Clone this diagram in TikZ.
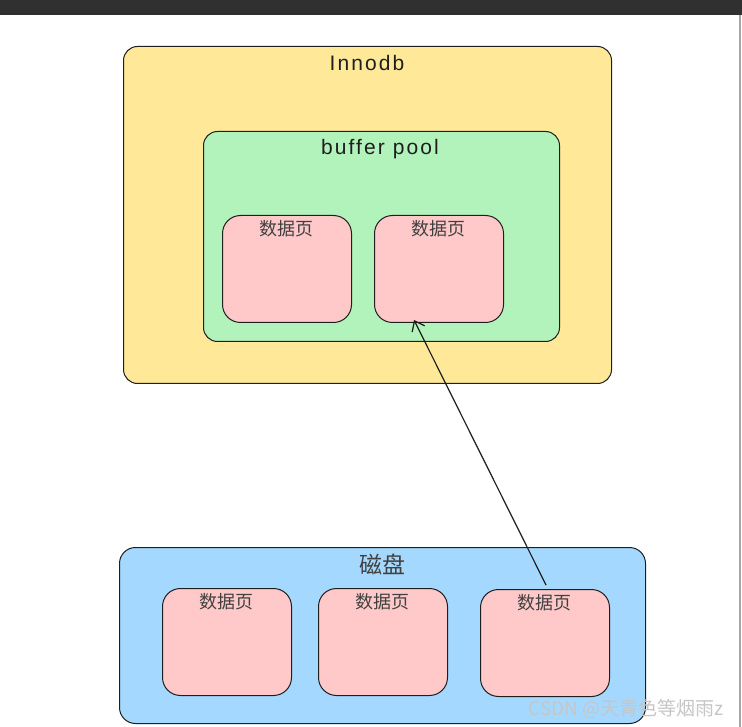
\documentclass[tikz,border=0pt]{standalone}
\usepackage{fontspec}
\setmainfont{Liberation Sans}
\newfontfamily\cjk{Noto Sans CJK SC}
\newfontfamily\hand[LetterSpace=10]{Liberation Sans}
\usetikzlibrary{arrows.meta}
\definecolor{lineC}{HTML}{1E1E1E}
\definecolor{yellowF}{HTML}{FFE999}
\definecolor{greenF}{HTML}{B2F2BB}
\definecolor{pinkF}{HTML}{FFC9C9}
\definecolor{blueF}{HTML}{A5D8FF}
\definecolor{barC}{HTML}{303030}
\tikzset{
  box/.style={draw=lineC, line width=1pt, rounded corners=14pt, anchor=north west, inner sep=0pt},
  pagebox/.style={box, fill=pinkF, minimum width=129pt, minimum height=107pt, rounded corners=18pt},
  title/.style={font=\hand\fontsize{21}{21}\selectfont, text=lineC},
  ptext/.style={font=\cjk\fontsize{18}{18}\selectfont, text=black!75},
}
\begin{document}
\begin{tikzpicture}[x=1pt,y=-1pt]
\useasboundingbox (0,0) rectangle (742,727);
\fill[white] (0,0) rectangle (742,727);
\fill[barC] (0,0) rectangle (742,15);
\fill[gray!70] (739,15) rectangle (741,727);
% Innodb
\node[box, fill=yellowF, minimum width=488pt, minimum height=337pt] (innodb) at (123,46) {};
\node[title] (innodbT) at (367,63) {Innodb};
% buffer pool
\node[box, fill=greenF, minimum width=356pt, minimum height=210pt] (bp) at (203,131) {};
\node[title] (bpT) at (380,149) {buffer pool};
% buffer pages
\node[pagebox] (bp1) at (222,215) {};
\node[ptext] (bp1T) at (286.5,229) {数据页};
\node[pagebox] (bp2) at (374,215) {};
\node[ptext] (bp2T) at (438.5,229) {数据页};
% disk
\node[box, fill=blueF, minimum width=526pt, minimum height=176pt, rounded corners=16pt] (disk) at (119,547) {};
\node[font=\cjk\fontsize{23}{23}\selectfont, text=black!75] (diskT) at (382,564) {磁盘};
\node[pagebox] (d1) at (162,588) {};
\node[ptext] (d1T) at (226.5,602) {数据页};
\node[pagebox] (d2) at (318,588) {};
\node[ptext] (d2T) at (382.5,602) {数据页};
\node[pagebox] (d3) at (480,589) {};
\node[ptext] (d3T) at (544.5,603) {数据页};
% arrow
\coordinate (aStart) at (546,585);
\coordinate (aEnd) at (414,320);
\draw[lineC, line width=1.2pt, -{Straight Barb[length=9pt,width=14pt,line width=1.2pt]}] (aStart) -- (aEnd);
% watermark
\node[font=\cjk\fontsize{19}{19}\selectfont, text=white!55!gray, anchor=west] (wm) at (525,709) {CSDN @天青色等烟雨z};
\end{tikzpicture}
\end{document}
